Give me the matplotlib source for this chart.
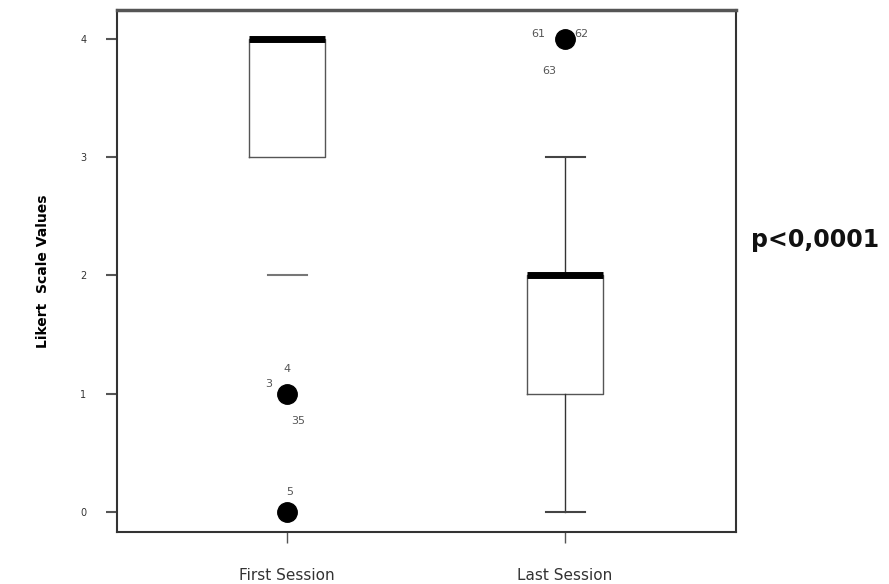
import matplotlib
matplotlib.use("Agg")
import matplotlib.pyplot as plt

# Session categories and box summaries (Likert scale 0-4)
sessions = ["First Session", "Last Session"]
q1_vals = [3, 1]
median_vals = [4, 2]
q3_vals = [4, 2]
whisker_low = [2, 0]
whisker_high = [4, 3]
show_whisker_stems = [False, True]
# Outlying answers and the case numbers printed beside them
outlier_vals = [[1, 0], [4]]
outlier_cases = [[("3", 1, (-13, 7)), ("4", 1, (0, 18)), ("35", 1, (8, -20)), ("5", 0, (2, 14))],
                 [("61", 4, (-19, 3.5)), ("62", 4, (12, 3.5)), ("63", 4, (-11.5, -23))]]
y_ticks = [0, 1, 2, 3, 4]
p_text = "p<0,0001"

fig = plt.figure(figsize=(8.89, 5.84), dpi=100)
ax = fig.add_axes([117 / 889, 1 - 532 / 584, (736 - 117) / 889, (532 - 10) / 584])

positions = [1, 2]
stats = []
for i in range(len(sessions)):
    stats.append(dict(med=median_vals[i], q1=q1_vals[i], q3=q3_vals[i],
                      whislo=whisker_low[i], whishi=whisker_high[i],
                      fliers=[], label=sessions[i]))

parts = ax.bxp(stats, positions=positions, widths=0.275, showfliers=False,
               boxprops=dict(color="#555555", linewidth=1.0),
               medianprops=dict(color="black", linewidth=5, solid_capstyle="butt"),
               whiskerprops=dict(color="#333333", linewidth=1.0),
               capprops=dict(color="#444444", linewidth=1.5),
               capwidths=0.14)

# Sessions without whisker stems keep only the lower cap
for i, show in enumerate(show_whisker_stems):
    if not show:
        parts["whiskers"][2 * i].set_visible(False)
        parts["whiskers"][2 * i + 1].set_visible(False)
        parts["caps"][2 * i + 1].set_visible(False)
        parts["caps"][2 * i].set_color("#777777")

for pos, vals in zip(positions, outlier_vals):
    ax.plot([pos] * len(vals), vals, "o", color="black", markersize=14, zorder=5)

for pos, cases in zip(positions, outlier_cases):
    for lab, val, (dx, dy) in cases:
        ax.annotate(lab, (pos, val), xytext=(dx, dy), textcoords="offset points",
                    ha="center", va="center", fontsize=8, color="#555555")

ax.set_xlim(0.388, 2.615)
ax.set_ylim(-0.17, 4.245)
ax.set_yticks(y_ticks)
ax.set_yticklabels([str(v) for v in y_ticks], fontsize=7, color="#333333")
ax.set_xticks(positions)
ax.set_xticklabels(sessions, fontsize=11, color="#333333")
ax.tick_params(axis="y", length=8, width=1.5, color="#555555", pad=14)
ax.tick_params(axis="x", length=8, width=1.0, color="#555555", pad=18)
for s in ax.spines.values():
    s.set_color("#333333")
    s.set_linewidth(1.5)
ax.spines["top"].set_color("#555555")
ax.spines["top"].set_linewidth(2.5)

ax.set_ylabel("Likert  Scale Values", fontsize=10, fontweight="bold", labelpad=22)
fig.text(815 / 889, 1 - 240 / 584, p_text, fontsize=17, fontweight="bold",
         ha="center", va="center", color="#111111")

fig.savefig("out.png", dpi=100)
